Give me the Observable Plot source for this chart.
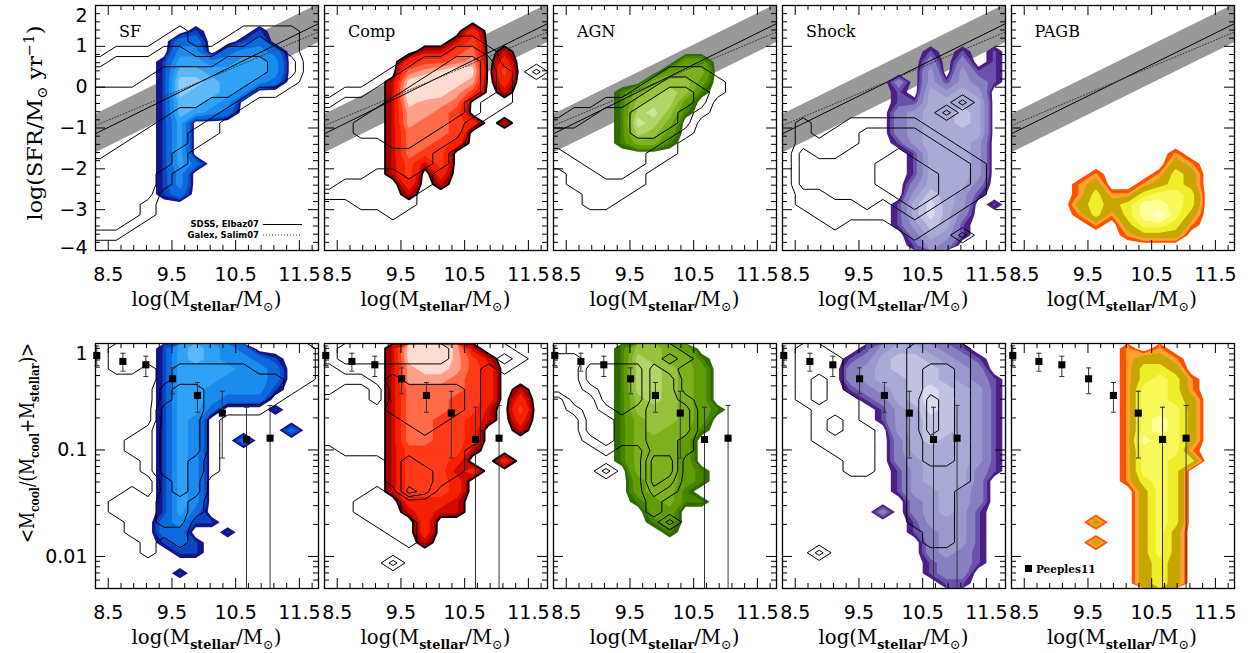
<!DOCTYPE html>
<html>
<head>
<meta charset="utf-8">
<script src="https://cdn.jsdelivr.net/npm/d3@7"></script>
<script src="https://cdn.jsdelivr.net/npm/@observablehq/plot@0.6"></script>
<style>
html,body{margin:0;padding:0;background:#fff;}
#chart{position:relative;width:1250px;height:653px;overflow:hidden;background:#fff;}
#chart svg{position:absolute;}
</style>
</head>
<body>
<div id="chart"></div>
<script>
// ---------------- data ----------------
const panelNames = ["SF", "Comp", "AGN", "Shock", "PAGB"];
const xTicks = [8.5, 9.5, 10.5, 11.5];
const yTicksTop = [-4, -3, -2, -1, 0, 1, 2];
const yTicksBottom = [0.01, 0.1, 1];

// main sequence relations (log SFR at the two mass ends)
const msMass = [8.3, 11.8];
const elbazSFR = [-1.14, 1.556];
const salimSFR = [-0.94, 1.35];
const msScatter = 0.47;

// Peeples 2011 gas fractions
const peeplesMass = [8.32, 8.73, 9.09, 9.51, 9.90, 10.29, 10.67, 11.04];
const peeplesFrac = [0.772, 0.678, 0.631, 0.466, 0.325, 0.222, 0.1255, 0.129];
const peeplesLow  = [0.62, 0.55, 0.49, 0.337, 0.226, 0.084, 0.001, 0.001];
const peeplesHigh = [0.95, 0.81, 0.76, 0.59, 0.43, 0.356, 0.252, 0.262];

// density grids: 16 mass bins (8.125 ... 11.875, step 0.25), 24 rows from top
// top row: log SFR 1.875 ... -3.875 ; bottom row: log10 fraction -0.048 ... -2.253
const gridMass = [8.0, 12.0];
const gridSFR = [2, -4];
const gridFrac = [1, 0.005];
const levels = [0.5, 0.9, 1.4, 2.5, 3.5, 4.5, 5.5];
const obsLevels = [0.5, 1.5, 2.5];

const sfTopFill = [
"0000000000000000","0000000000000000","0000000100010000","0000002200120000",
"0000003302332000","0000014433443000","0000015544443000","0000016654432000",
"0000016554300000","0000015543000000","0000015432000000","0000014000000000",
"0000014000000000","0000014000000000","0000014000000000","0000014200000000",
"0000013000000000","0000013000000000","0000012000000000","0000000000000000",
"0000000000000000","0000000000000000","0000000000000000","0000000000000000"];
const sfTopObs = [
"0000000000000000","0000000000000000","0000001000111100","0000011001121100",
"0011122112222100","1122222223332200","2222233333332200","2222333333322100",
"3333333333211000","3333333322100000","3333332221000000","3333322210000000",
"3333222110000000","3332222100000000","3322221000000000","2222221000000000",
"2222210000000000","2222210000000000","2222200000000000","2222100000000000",
"2222100000000000","2221000000000000","1110000000000000","0000000000000000"];

const compTopFill = [
"0000000000000000","0000000000000000","0000000000200000","0000000001300000",
"0000000113401000","0000002334502000","0000004567603000","0000016776502000",
"0000017765301000","0000016554000000","0000015543000000","0000015443201000",
"0000014443000000","0000014432000000","0000014330000000","0000013130000000",
"0000013020000000","0000002010000000","0000001000000000","0000000000000000",
"0000000000000000","0000000000000000","0000000000000000","0000000000000000"];
const compTopObs = [
"0000000000000000","0000000000000000","0000000000000000","0000000001100000",
"0000000112210000","0000001223320000","0000012233321020","0000122333321000",
"0011223333321000","1122233333211000","2222333333210000","2223333332100000",
"2223333322000000","2222233221000000","2222222210000000","2222222210000000",
"2222112100000000","2211111100000000","1111111000000000","0001111000000000",
"0000010000000000","0000000000000000","0000000000000000","0000000000000000"];

const agnTopFill = [
"0000000000000000","0000000000000000","0000000000000000","0000000000000000",
"0000000000000000","0000000002200000","0000000023300000","0000000344200000",
"0000013454100000","0000014552000000","0000015641000000","0000016530000000",
"0000015420000000","0000013310000000","0000000000000000","0000000000000000",
"0000000000000000","0000000000000000","0000000000000000","0000000000000000",
"0000000000000000","0000000000000000","0000000000000000","0000000000000000"];
const agnTopObs = [
"0000000000000000","0000000000000000","0000000000000000","0000000000000000",
"0000000000000000","0000000000000000","0000000011100000","0000000122110000",
"0000001233210000","0000112333200000","0011223332100000","1112223332000000",
"2222223321000000","2222222210000000","1122222110000000","1112222100000000",
"0011221000000000","0011111000000000","0001110000000000","0001100000000000",
"0000000000000000","0000000000000000","0000000000000000","0000000000000000"];

const shockTopFill = [
"0000000000000000","0000000000000000","0000000000000000","0000000000000000",
"0000000000101010","0000000000202010","0000000000303110","0000000020313210",
"0000000010434300","0000000011444400","0000000023445400","0000000023445400",
"0000000023444400","0000000013444300","0000000001444300","0000000001444300",
"0000000001444300","0000000002444200","0000000003543100","0000000014643010",
"0000000014642000","0000000013541000","0000000002431000","0000000001320000"];
const shockTopObs = [
"0000000000000000","0000000000000000","0000000000000000","0000000000000000",
"0000000000000000","0000000000000000","0000000000000000","0000000000000000",
"0000000000000000","0000000000002000","0000000000020000","0010011111000000",
"0010112222100000","0011112222210000","0021122232221000","0022222333222100",
"0022222333322100","0022222333322100","0011222233321100","0011112123211000",
"0001111112110000","0000100011100000","0000000001002000","0000000000000000"];

const pagbTopFill = [
"0000000000000000","0000000000000000","0000000000000000","0000000000000000",
"0000000000000000","0000000000000000","0000000000000000","0000000000000000",
"0000000000000000","0000000000000000","0000000000000000","0000000000000000",
"0000000000000000","0000000000000000","0000000000010000","0000000000021000",
"0000001000132000","0000012001232000","0000013113443000","0000023235543000",
"0000013135642000","0000001024431000","0000000012220000","0000000000000000"];

const sfBottomFill = [
"0000014543200000","0000014543321000","0000014444332000","0000014443332000",
"0000014433331000","0000014432220000","0000014420001000","0000014300000000",
"0000014300000200","0000014300200000","0000014300000000","0000014300000000",
"0000014300000000","0000014300000000","0000014300000000","0000014300000000",
"0000014200000000","0000023110000000","0000022001000000","0000012100000000",
"0000001100000000","0000000000000000","0000001000000000","0000000000000000"];
const sfBottomObs = [
"0011111111111110","0011111111111110","0011012222211110","0000012222222110",
"0000023322222100","0000023322221000","0000033321110000","0000033310000000",
"0000133310000000","0001133310000000","0001133310000000","0000133210000000",
"0000133210000000","0000023200000000","0001023200000000","0011122100000000",
"0011122100000000","0001122000000000","0001111000000000","0000101000000000",
"0000100000000000","0000000000000000","0000000000000000","0000000000000000"];

const compBottomFill = [
"0000016775100000","0000016775310000","0000015665320000","0000015554320000",
"0000014444320100","0000014443320200","0000014443310300","0000014433210200",
"0000014433200100","0000014433200000","0000013333100000","0000013332002000",
"0000013331200000","0000013332000000","0000013332000000","0000002221000000",
"0000001211000000","0000000200000000","0000000200000000","0000000100000000",
"0000000000000000","0000000000000000","0000000000000000","0000000000000000"];
const compBottomObs = [
"1122222221111000","1122222221112100","0011111111101000","0000121111100000",
"0011022222100000","1111022222100000","1111122222100000","1111112221100000",
"1111111211100000","1111111111100000","0011111111000000","0000012111000000",
"0000012211000000","0000012210000000","0000103200000000","0001110000000000",
"0001110000000000","0000111000000000","0000011000000000","0000001000000000",
"0000000000000000","0000020000000000","0000000000000000","0000000000000000"];

const agnBottomFill = [
"0000014432000000","0000015433100000","0000015543200000","0000015543200000",
"0000015543200000","0000014543200000","0000014443210000","0000013443200000",
"0000013433100000","0000013332000000","0000013332000000","0000013332000000",
"0000003332100000","0000002332100000","0000002331000000","0000001231100000",
"0000000220000000","0000000120000000","0000000010000000","0000000000000000",
"0000000000000000","0000000000000000","0000000000000000","0000000000000000"];
const agnBottomObs = [
"1111111110000000","2221111121000000","2220000210000000","2220000220000000",
"2221000220000000","0022000221000000","0012101222000000","0002211222000000",
"0002211222000000","0001211221000000","0000100221000000","0000000330000000",
"0000200330000000","0000000320000000","0000000210000000","0000000100000000",
"0000000100000000","0000000020000000","0000000000000000","0000000000000000",
"0000000000000000","0000000000000000","0000000000000000","0000000000000000"];

const shockBottomFill = [
"0000001344321000","0000012455432100","0000023455543200","0000023445543210",
"0000012345654310","0000001245654310","0000000134654310","0000000134554310",
"0000000034554310","0000000024544310","0000000024444310","0000000023444310",
"0000000013444210","0000000013444200","0000000013343200","0000000002343200",
"0000000202343100","0000000001333100","0000000001233100","0000000000233100",
"0000000000232100","0000000000122100","0000000000122000","0000000000011000"];
const shockBottomObs = [
"0011000001111000","0011100001111000","0011100001221000","0012100001221000",
"0012100001221000","0012110001321000","0001110001321000","0001210001321000",
"0001211001321000","0001111001221000","0000111001221000","0000011001221000",
"0000011001111000","0000000001111000","0000000001110000","0000000001110000",
"0000000001110000","0000000001110000","0000000000110000","0000000000110000",
"0002000000000000","0000000000000000","0000000000000000","0000000000000000"];

const pagbBottomFill = [
"0000000010100000","0000000012210000","0000000013320000","0000000013431000",
"0000000014431000","0000000014432000","0000000014442000","0000000014542000",
"0000000014542000","0000000015442000","0000000014441000","0000000014433000",
"0000000014430000","0000000013430000","0000000002430000","0000000002430000",
"0000000002430000","0000002002430000","0000000002420000","0000002002420000",
"0000000002420000","0000000002320000","0000000002320000","0000000002320000"];

// ---------------- styles ----------------
const sfColors    = ["#14148c","#0a46c0","#0c6ade","#1a8ced","#2fa2f5","#5cb8f7","#8ecdf8"];
const compColors  = ["#a00000","#d00a00","#f52000","#ff3a18","#ff6a48","#ffa08a","#ffdcd2"];
const agnColors   = ["#2f6b00","#468400","#609c04","#7cb01c","#96c23c","#b2d468","#cde39e"];
const shockColors = ["#4b1e88","#6a52aa","#8680c0","#9a98cd","#aaaad7","#c2c2e3","#dcdcf0"];
const pagbColors  = ["#ff5200","#ffa032","#c8a600","#eeee2a","#f8f85a","#ffff98","#ffffd4"];

const palettes = [sfColors, compColors, agnColors, shockColors, pagbColors];
const topFill = [sfTopFill, compTopFill, agnTopFill, shockTopFill, pagbTopFill];
const topObs = [sfTopObs, compTopObs, agnTopObs, shockTopObs, null];
const bottomFill = [sfBottomFill, compBottomFill, agnBottomFill, shockBottomFill, pagbBottomFill];
const bottomObs = [sfBottomObs, compBottomObs, agnBottomObs, shockBottomObs, null];

const panelLeft = [95, 324, 553, 782, 1010.5];
const rowTop = [5, 343];
const PW = 223, PH = 245;

// ---------------- helpers ----------------
const lg10 = Math.log10;
function toGrid(rows, name) {
  if (rows.length !== 24) throw new Error(name + " rows " + rows.length);
  rows.forEach((r, i) => { if (r.length !== 16) throw new Error(name + " row " + i + " len " + r.length); });
  return rows.flatMap(r => Array.from(r, Number));
}
const ms = msMass.map((m, i) => ({m, elbaz: elbazSFR[i], salim: salimSFR[i]}));
const peeples = peeplesMass.map((m, i) => ({m, f: peeplesFrac[i], lo: peeplesLow[i], hi: peeplesHigh[i]}));
const cap = {draw(ctx, size) { const w = Math.sqrt(size / Math.PI); ctx.moveTo(-w, 0); ctx.lineTo(w, 0); }};

const range = (a, b, s) => d3.range(Math.round((b - a) / s) + 1).map(i => +(a + i * s).toFixed(4));
const xMinor = range(8.3, 11.7, 0.2).filter(v => !xTicks.some(t => Math.abs(t - v) < 1e-6));
const yMinorTop = range(-3.8, 1.8, 0.2).filter(v => Math.abs(v - Math.round(v)) > 1e-6);
const yMinorBottom = [6,7,8,9].map(d => d / 1000).concat([2,3,4,5,6,7,8,9].map(d => d / 100), [2,3,4,5,6,7,8,9].map(d => d / 10));

function panel(k, row) {
  const top = row === 0;
  // bottom row: the y scale is linear in log10(fraction)
  const yv = top ? (d => d) : (d => lg10(d));
  const grid = {width: 16, height: 24, x1: gridMass[0], x2: gridMass[1],
    y1: top ? gridSFR[0] : lg10(gridFrac[0]), y2: top ? gridSFR[1] : lg10(gridFrac[1]),
    value: d => d, clip: true};
  const V = toGrid((top ? topFill : bottomFill)[k], panelNames[k] + row);
  const obs = (top ? topObs : bottomObs)[k];
  const marks = [];
  if (top) marks.push(Plot.areaY(ms, {x: "m", y1: d => d.elbaz - msScatter, y2: d => d.elbaz + msScatter, fill: "#999999", clip: true}));
  palettes[k].forEach((c, i) => marks.push(Plot.contour(V, {...grid, thresholds: [levels[i]], fill: c, stroke: "none"})));
  if (k === 1) marks.push(Plot.contour(V, {...grid, thresholds: [levels[0]], fill: "none", stroke: "black", strokeWidth: 1.8}));
  if (top) {
    marks.push(Plot.line(ms, {x: "m", y: "elbaz", stroke: "black", strokeWidth: 1, clip: true}));
    marks.push(Plot.line(ms, {x: "m", y: "salim", stroke: "#333", strokeWidth: 1, strokeDasharray: "1,2", clip: true}));
  }
  if (obs) marks.push(Plot.contour(toGrid(obs, panelNames[k] + "obs" + row), {...grid, thresholds: obsLevels, fill: "none", stroke: "black", strokeWidth: 1}));
  if (!top) {
    marks.push(Plot.ruleX(peeples, {x: "m", y1: d => lg10(d.lo), y2: d => lg10(d.hi), stroke: "#333", strokeWidth: 1, clip: true}));
    marks.push(Plot.dot(peeples, {x: "m", y: d => lg10(d.hi), symbol: cap, r: 2.5, stroke: "#333", strokeWidth: 1}));
    marks.push(Plot.dot(peeples.filter(d => d.lo > gridFrac[1]), {x: "m", y: d => lg10(d.lo), symbol: cap, r: 2.5, stroke: "#333", strokeWidth: 1}));
    marks.push(Plot.dot(peeples, {x: "m", y: d => lg10(d.f), symbol: "square", r: 4, fill: "black", stroke: "none"}));
  }
  // inward tick marks on all four sides
  const yMaj = top ? yTicksTop : yTicksBottom;
  const yMin = top ? yMinorTop : yMinorBottom;
  marks.push(Plot.tickX(xTicks, {x: d => d, insetTop: PH - 10, stroke: "black"}));
  marks.push(Plot.tickX(xTicks, {x: d => d, insetBottom: PH - 10, stroke: "black"}));
  marks.push(Plot.tickX(xMinor, {x: d => d, insetTop: PH - 5, stroke: "black"}));
  marks.push(Plot.tickX(xMinor, {x: d => d, insetBottom: PH - 5, stroke: "black"}));
  marks.push(Plot.tickY(yMaj, {y: yv, insetRight: PW - 10, stroke: "black"}));
  marks.push(Plot.tickY(yMaj, {y: yv, insetLeft: PW - 10, stroke: "black"}));
  marks.push(Plot.tickY(yMin, {y: yv, insetRight: PW - 5, stroke: "black"}));
  marks.push(Plot.tickY(yMin, {y: yv, insetLeft: PW - 5, stroke: "black"}));
  marks.push(Plot.frame({stroke: "black", strokeWidth: 1.3}));
  marks.push(Plot.axisX(xTicks, {tickSize: 0, tickPadding: 17, tickFormat: d => d.toFixed(1), label: null, fontSize: 19}));
  if (k === 0) {
    const fmt = top ? (d => d < 0 ? "\u2212" + (-d) : String(d)) : (d => String(d));
    const hiEnd = yMaj[yMaj.length - 1], loEnd = yMaj[0];
    const mid = yMaj.filter(d => d !== hiEnd && (!top || d !== loEnd));
    const lab = {y: yv, text: fmt, frameAnchor: "left", textAnchor: "end", dx: -8, fontSize: 19};
    marks.push(Plot.text(mid, lab));
    marks.push(Plot.text([hiEnd], {...lab, dy: 10}));
    if (top) marks.push(Plot.text([loEnd], {...lab, dy: -3}));
  }
  const svg = Plot.plot({
    width: PW, height: PH, margin: 0,
    x: {domain: [8.3, 11.8]},
    y: top ? {domain: [-4, 2], axis: null} : {domain: [lg10(gridFrac[1]), 0], axis: null},
    style: {background: "transparent", overflow: "visible", fontFamily: "'DejaVu Sans', sans-serif", fontSize: "19px", color: "black"},
    marks
  });
  svg.style.left = panelLeft[k] + "px";
  svg.style.top = rowTop[row] + "px";
  svg.style.position = "absolute";
  svg.style.overflow = "visible";
  return svg;
}

const chart = document.getElementById("chart");
for (let row = 0; row < 2; row++) for (let k = 0; k < 5; k++) chart.appendChild(panel(k, row));

// ---------------- overlay text ----------------
const ov = d3.select(chart).append("svg").attr("width", 1250).attr("height", 653)
  .style("left", "0px").style("top", "0px").style("overflow", "visible")
  .attr("font-family", "'DejaVu Serif', serif");

function rich(x, y, parts, opt = {}) {
  const t = ov.append("text").attr("x", x).attr("y", y).attr("font-size", opt.size || 20)
    .attr("text-anchor", opt.anchor || "middle").attr("fill", "black");
  if (opt.rotate) t.attr("transform", `rotate(-90 ${x} ${y})`);
  if (opt.length) t.attr("textLength", opt.length).attr("lengthAdjust", "spacingAndGlyphs");
  let shift = 0;
  for (const p of parts) {
    const s = t.append("tspan").text(p.t);
    const target = p.sub ? 5 : p.sup ? -8 : 0;
    if (target !== shift) { s.attr("dy", target - shift); shift = target; }
    if (p.sub || p.sup) s.attr("font-size", opt.subSize || 13);
    if (p.bold) s.attr("font-weight", "bold");
  }
  return t;
}
const xTitle = [{t: "log(M"}, {t: "stellar", sub: true, bold: true}, {t: "/M"}, {t: "\u2299", sub: true}, {t: ")"}];
for (let row = 0; row < 2; row++) for (let k = 0; k < 5; k++)
  rich(panelLeft[k] + PW / 2, row === 0 ? 306 : 644, xTitle, {length: 150});
rich(42, 123, [{t: "log(SFR/M"}, {t: "\u2299", sub: true}, {t: " yr"}, {t: "\u22121", sup: true}, {t: ")"}], {rotate: true, length: 195, size: 21, subSize: 14});
rich(34, 443, [{t: "<M"}, {t: "cool", sub: true, bold: true}, {t: "/(M"}, {t: "cool", sub: true, bold: true}, {t: "+M"}, {t: "stellar", sub: true, bold: true}, {t: ")>"}], {rotate: true, length: 200, size: 20, subSize: 13});
panelNames.forEach((n, k) => ov.append("text").attr("x", panelLeft[k] + 24).attr("y", 37).attr("font-size", 16).text(n));

// SF legend
const lgd = ov.append("g").attr("font-family", "'DejaVu Sans', sans-serif").attr("font-weight", "bold").attr("font-size", 8.5);
lgd.append("text").attr("x", 259).attr("y", 227).attr("text-anchor", "end").text("SDSS, Elbaz07");
lgd.append("text").attr("x", 259).attr("y", 238).attr("text-anchor", "end").text("Galex, Salim07");
lgd.append("line").attr("x1", 263).attr("x2", 302).attr("y1", 224.5).attr("y2", 224.5).attr("stroke", "black");
lgd.append("line").attr("x1", 263).attr("x2", 302).attr("y1", 235).attr("y2", 235).attr("stroke", "#333").attr("stroke-dasharray", "1,2");
// Peeples legend
ov.append("rect").attr("x", 1025).attr("y", 565).attr("width", 7).attr("height", 7).attr("fill", "black");
ov.append("text").attr("x", 1036).attr("y", 572.5).attr("font-size", 10.5).attr("font-weight", "bold").text("Peeples11");
</script>
</body>
</html>
